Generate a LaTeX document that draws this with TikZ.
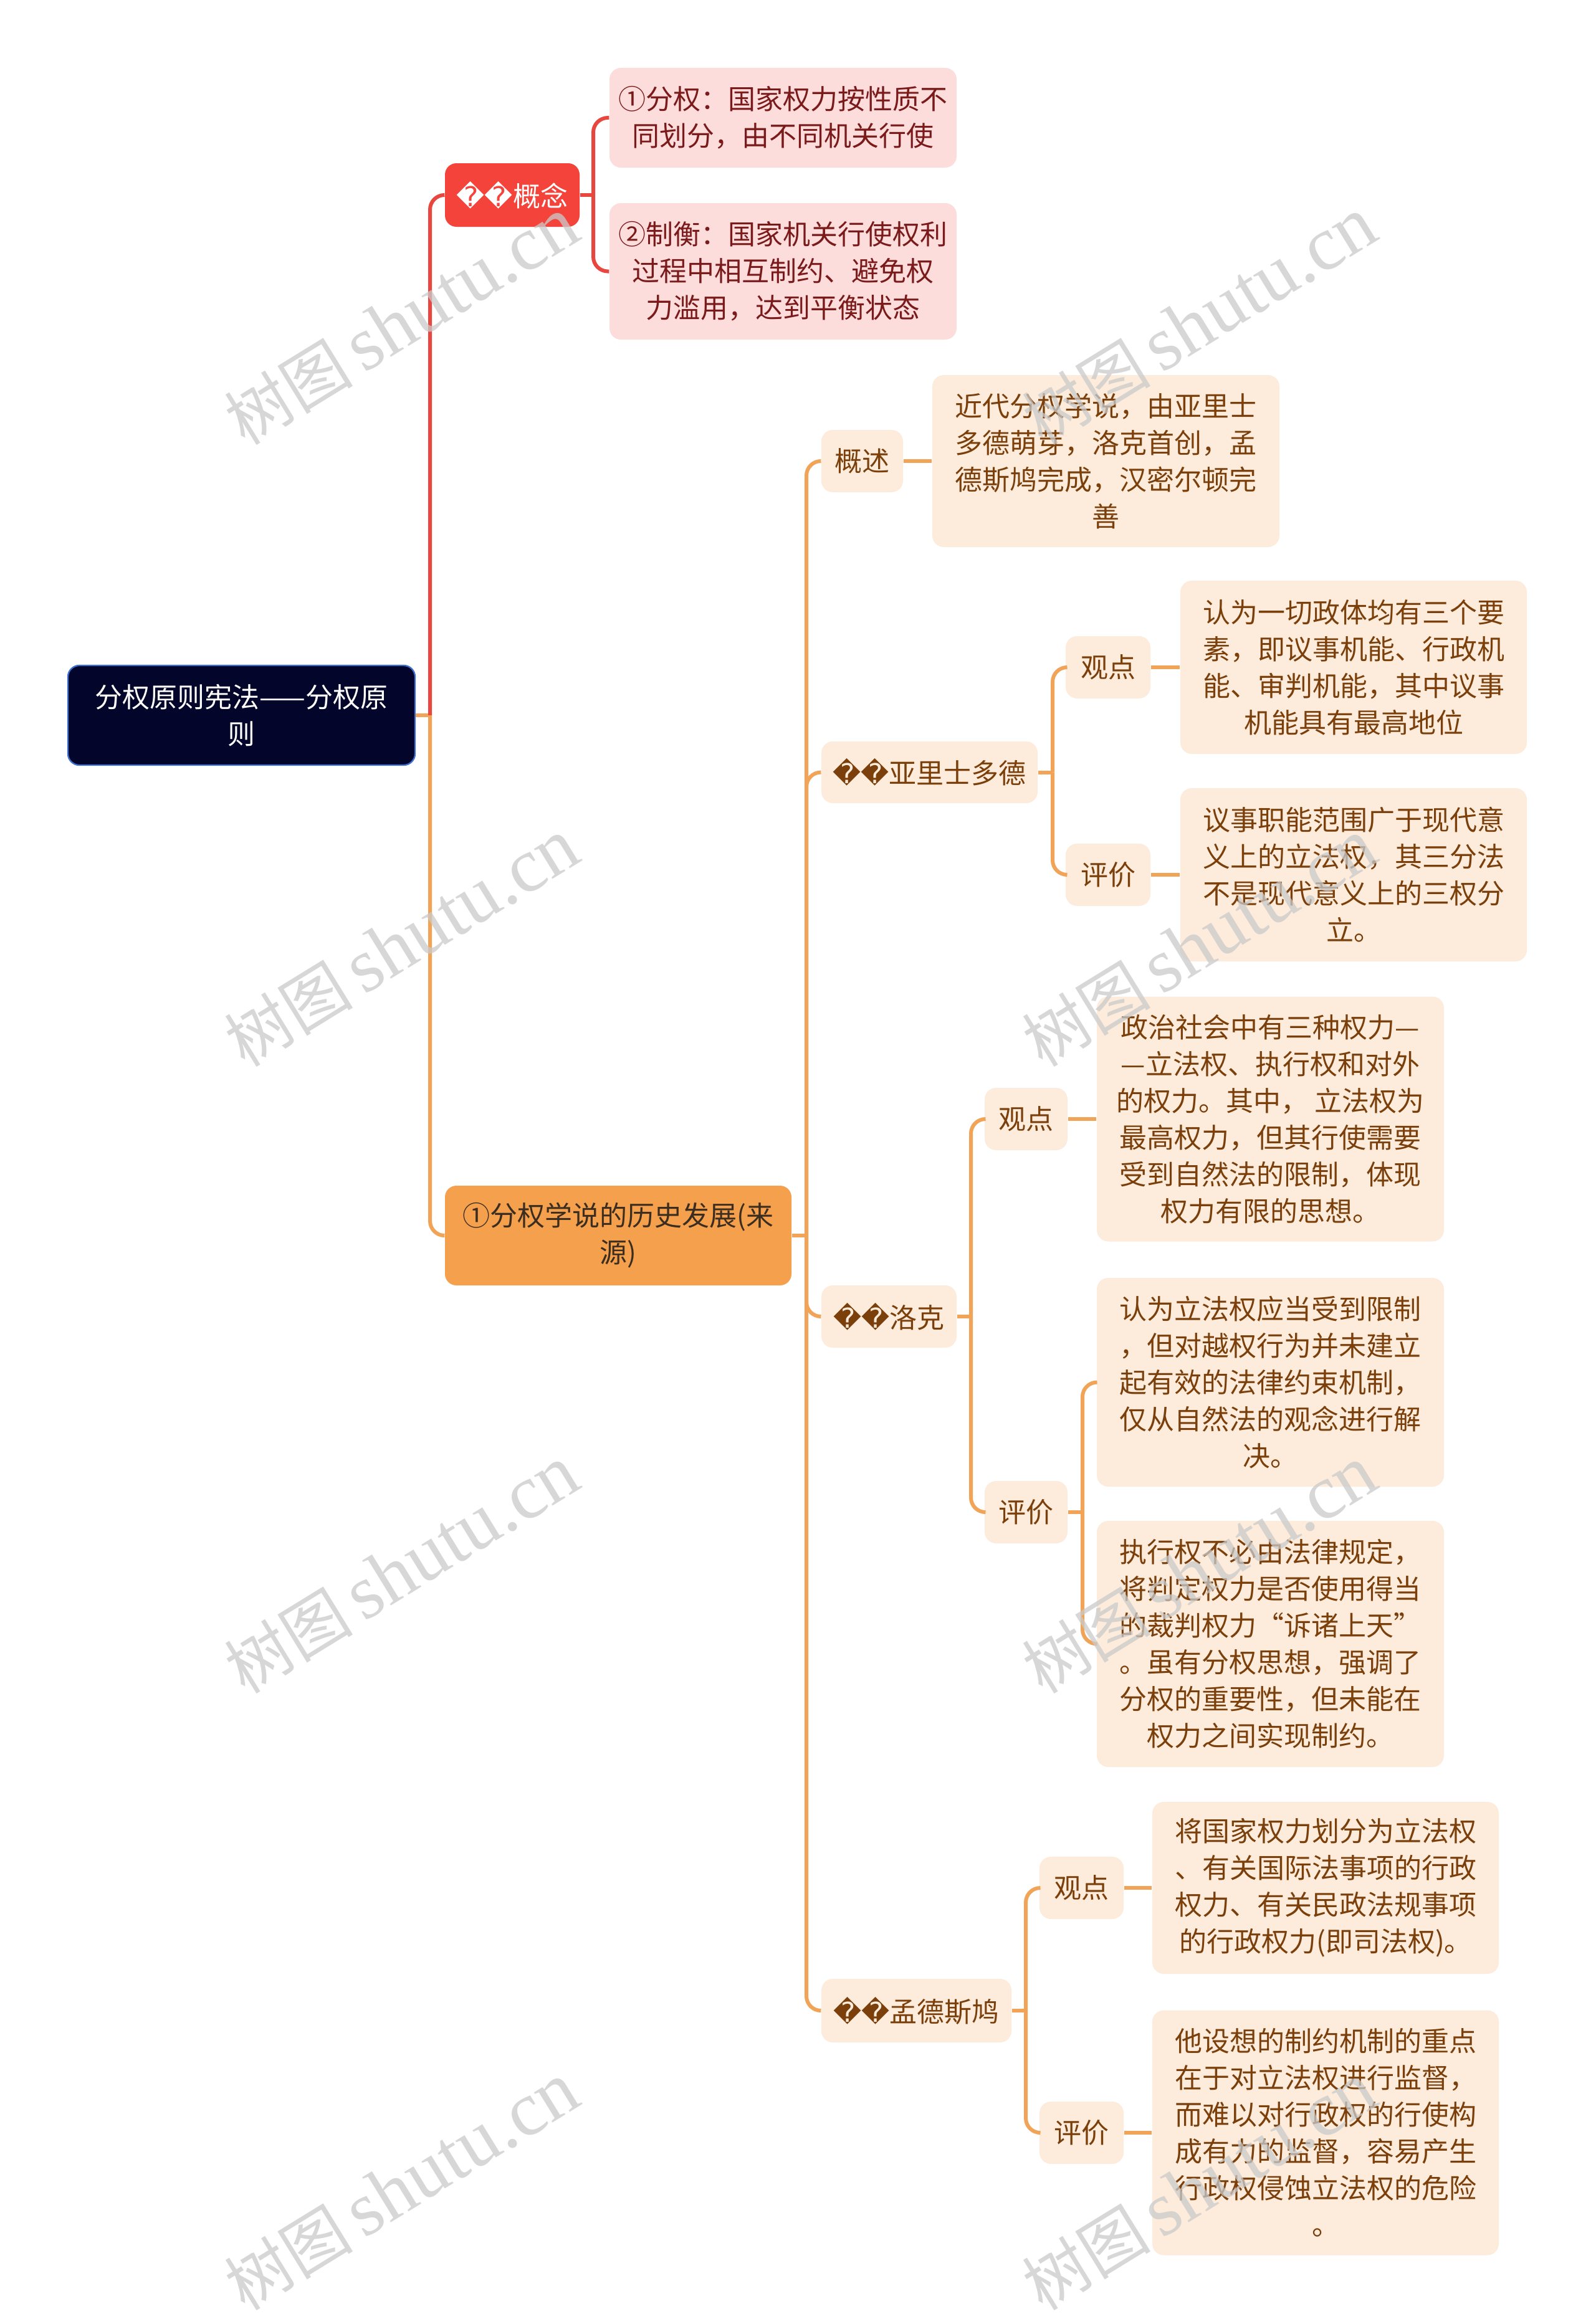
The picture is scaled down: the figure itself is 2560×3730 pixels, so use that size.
\documentclass[tikz,border=0pt]{standalone}
\usepackage{fontspec}
\setmainfont{Noto Sans CJK SC}
\newfontfamily\dvfont{DejaVu Sans}
\newfontfamily\wmlatin{Liberation Serif}
\newcommand\qmark{{\dvfont ^^^^fffd^^^^fffd}}
\definecolor{rootfill}{HTML}{03052A}
\definecolor{rootborder}{HTML}{3F6FCF}
\definecolor{redfill}{HTML}{F4433B}
\definecolor{redline}{HTML}{E8473F}
\definecolor{pinkfill}{HTML}{FDDCDC}
\definecolor{pinktext}{HTML}{7A1A1A}
\definecolor{orangefill}{HTML}{F5A04C}
\definecolor{orangetext}{HTML}{3B2D1F}
\definecolor{orline}{HTML}{F1A457}
\definecolor{creamfill}{HTML}{FDEBDB}
\definecolor{creamtext}{HTML}{7A3F0A}
\definecolor{wmgray}{HTML}{CACACA}
\begin{document}
\begin{tikzpicture}[x=0.3pt,y=-0.3pt,
  base/.style={rounded corners=5.5pt, inner sep=0pt, align=center,
    font=\fontsize{13.2pt}{17.7pt}\selectfont},
  sz/.style 2 args={minimum width={#1*0.3pt}, minimum height={#2*0.3pt}},
  rootbox/.style={base, fill=rootfill, draw=rootborder, line width=0.7pt, text=white},
  redbox/.style={base, fill=redfill, text=white},
  pinkbox/.style={base, fill=pinkfill, text=pinktext},
  orangebox/.style={base, fill=orangefill, text=orangetext},
  creambox/.style={base, fill=creamfill, text=creamtext},
  redconn/.style={draw=redline, line width=1.8pt, rounded corners=7pt},
  orconn/.style={draw=orline, line width=1.8pt, rounded corners=7pt},
  wm/.style={text=wmgray, opacity=0.75, rotate=31.6, inner sep=0pt}]
\useasboundingbox (0,0) rectangle (2560,3730);
\fill[white] (0,0) rectangle (2560,3730);

% root
\node[rootbox, sz={557}{160}] (root) at (387.5,1148) {分权原则宪法——分权原\\则};

% concept branch
\node[redbox, sz={216}{102}] (gn) at (822,313) {\qmark 概念};
\node[pinkbox, sz={557}{160}] (c1) at (1256.5,189) {①分权：国家权力按性质不\\同划分，由不同机关行使};
\node[pinkbox, sz={557}{219}] (c2) at (1256.5,435.5) {②制衡：国家机关行使权利\\过程中相互制约、避免权\\力滥用，达到平衡状态};

% history branch
\node[orangebox, sz={556}{160}] (hist) at (992,1983) {①分权学说的历史发展(来\\源)};

\node[creambox, sz={131}{100}] (gs) at (1383.5,740) {概述};
\node[creambox, sz={557}{276}] (gsl) at (1774.5,740) {近代分权学说，由亚里士\\多德萌芽，洛克首创，孟\\德斯鸠完成，汉密尔顿完\\善};

\node[creambox, sz={347}{99}] (ar) at (1491.5,1239.5) {\qmark 亚里士多德};
\node[creambox, sz={136}{100}] (arv) at (1778,1071) {观点};
\node[creambox, sz={556}{278}] (arvl) at (2172,1071) {认为一切政体均有三个要\\素，即议事机能、行政机\\能、审判机能，其中议事\\机能具有最高地位};
\node[creambox, sz={136}{100}] (are) at (1778,1404) {评价};
\node[creambox, sz={556}{278}] (arel) at (2172,1404) {议事职能范围广于现代意\\义上的立法权，其三分法\\不是现代意义上的三权分\\立。};

\node[creambox, sz={217}{100}] (lk) at (1426.5,2113) {\qmark 洛克};
\node[creambox, sz={133}{100}] (lkv) at (1646.5,1796) {观点};
\node[creambox, sz={557}{393}] (lkvl) at (2038.5,1796) {政治社会中有三种权力—\\—立法权、执行权和对外\\的权力。其中， 立法权为\\最高权力，但其行使需要\\受到自然法的限制，体现\\权力有限的思想。};
\node[creambox, sz={133}{100}] (lke) at (1646.5,2427) {评价};
\node[creambox, sz={557}{335}] (lkel1) at (2038.5,2218.5) {认为立法权应当受到限制\\，但对越权行为并未建立\\起有效的法律约束机制，\\仅从自然法的观念进行解\\决。};
\node[creambox, sz={557}{395}] (lkel2) at (2038.5,2638.5) {执行权不必由法律规定，\\将判定权力是否使用得当\\的裁判权力“诉诸上天”\\。虽有分权思想，强调了\\分权的重要性，但未能在\\权力之间实现制约。};

\node[creambox, sz={305}{102}] (ms) at (1470.5,3227) {\qmark 孟德斯鸠};
\node[creambox, sz={135}{100}] (msv) at (1735.5,3030) {观点};
\node[creambox, sz={556}{276}] (msvl) at (2127,3030) {将国家权力划分为立法权\\、有关国际法事项的行政\\权力、有关民政法规事项\\的行政权力(即司法权)。};
\node[creambox, sz={135}{100}] (mse) at (1735.5,3423) {评价};
\node[creambox, sz={556}{393}] (msel) at (2127,3423) {他设想的制约机制的重点\\在于对立法权进行监督，\\而难以对行政权的行使构\\成有力的监督，容易产生\\行政权侵蚀立法权的危险\\。};

% spine coordinates
\coordinate (s0) at (690,1148);
\coordinate (s1) at (952,313);
\coordinate (s2) at (1294,1983);
\coordinate (s3) at (1689,1239.5);
\coordinate (s4) at (1558,2113);
\coordinate (s5) at (1737,2427);
\coordinate (s6) at (1646,3227);

% connectors
\draw[orconn] (root.east) -- (s0);
\draw[redconn] (s0) |- (gn.west);
\draw[orconn] (s0) |- (hist.west);

\draw[redconn] (gn.east) -- (s1);
\draw[redconn] (s1) |- (c1.west);
\draw[redconn] (s1) |- (c2.west);

\draw[orconn] (hist.east) -- (s2);
\draw[orconn] (s2) |- (gs.west);
\draw[orconn] (s2) |- (ar.west);
\draw[orconn] (s2) |- (lk.west);
\draw[orconn] (s2) |- (ms.west);

\draw[orconn] (gs.east) -- (gsl.west);

\draw[orconn] (ar.east) -- (s3);
\draw[orconn] (s3) |- (arv.west);
\draw[orconn] (s3) |- (are.west);
\draw[orconn] (arv.east) -- (arvl.west);
\draw[orconn] (are.east) -- (arel.west);

\draw[orconn] (lk.east) -- (s4);
\draw[orconn] (s4) |- (lkv.west);
\draw[orconn] (s4) |- (lke.west);
\draw[orconn] (lkv.east) -- (lkvl.west);
\draw[orconn] (lke.east) -- (s5);
\draw[orconn] (s5) |- (lkel1.west);
\draw[orconn] (s5) |- (lkel2.west);

\draw[orconn] (ms.east) -- (s6);
\draw[orconn] (s6) |- (msv.west);
\draw[orconn] (s6) |- (mse.west);
\draw[orconn] (msv.east) -- (msvl.west);
\draw[orconn] (mse.east) -- (msel.west);

% watermarks
\foreach \wx/\wy [count=\i] in {645/516, 645/1514, 645/2520, 645/3510, 1925/516, 1925/1514, 1925/2520, 1925/3510}{
  \node[wm] (wm\i) at (\wx,\wy) {\fontsize{31pt}{31pt}\selectfont 树图\,{\wmlatin\fontsize{37pt}{37pt}\selectfont shutu.cn}};
}
\end{tikzpicture}
\end{document}
